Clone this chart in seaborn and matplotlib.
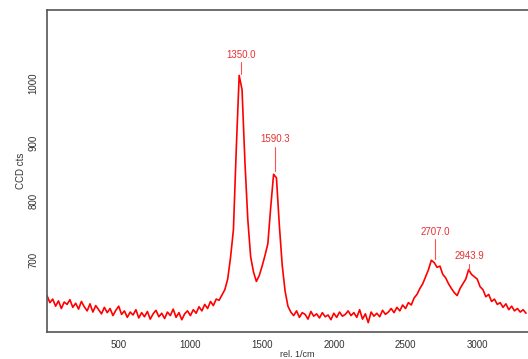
import numpy as np
import pandas as pd
import seaborn as sns
import matplotlib.pyplot as plt

# Raman spectrum, values (20 1/cm steps)
shift = np.arange(0, 3360, 20)
counts = [
    640, 628, 634, 622, 631, 618, 629, 625, 633, 620,
    627, 617, 630, 621, 614, 626, 612, 623, 616, 609,
    620, 611, 618, 606, 615, 622, 608, 614, 603, 612,
    607, 616, 602, 611, 604, 613, 600, 609, 615, 604,
    610, 601, 612, 606, 617, 603, 611, 599, 609, 614,
    606, 616, 610, 621, 614, 625, 618, 630, 623, 634,
    632, 641, 650, 668, 705, 752, 890, 1014, 990, 868,
    770, 706, 680, 664, 674, 690, 708, 728, 790, 846,
    840, 760, 692, 648, 622, 612, 606, 614, 603, 611,
    608, 600, 613, 605, 609, 602, 611, 604, 607, 599,
    610, 603, 612, 605, 608, 614, 606, 611, 603, 616,
    600, 609, 594, 612, 605, 610, 604, 615, 608, 612,
    618, 611, 620, 614, 624, 618, 628, 624, 636, 642,
    652, 660, 672, 684, 700, 696, 688, 690, 676, 670,
    660, 652, 645, 640, 652, 660, 668, 684, 676, 672,
    668, 655, 650, 638, 642, 630, 634, 625, 628, 620,
    626, 616, 622, 614, 618, 612, 616, 610,
]
peak_pos = [1350.0, 1590.3, 2707.0, 2943.9]
peak_top = [1016, 852, 702, 684]
label_y = [1040, 897, 740, 698]

df = pd.DataFrame({'shift': shift, 'counts': counts})

sns.set_style('white')
plt.rcParams['font.family'] = ['Liberation Sans', 'DejaVu Sans']
fig = plt.figure(figsize=(5.28, 3.59), dpi=100)
ax = fig.add_axes([0.089, 0.075, 0.911, 0.897])
sns.lineplot(data=df, x='shift', y='counts', color='red', lw=1.2, ax=ax)

# peak labels with short marker lines
for p, t, ly in zip(peak_pos, peak_top, label_y):
    ax.plot([p, p], [t, ly - 4], color='#ff5050', lw=0.8)
    ax.text(p, ly, f'{p:.1f}', color='#e83030', fontsize=7,
            ha='center', va='bottom')

ax.set_xlim(0, 3354)
ax.set_ylim(578, 1125)
ax.set_xticks([500, 1000, 1500, 2000, 2500, 3000])
ax.set_yticks([700, 800, 900, 1000])
ax.tick_params(axis='both', direction='out', length=4, width=1,
               color='#444444', labelcolor='#333333', labelsize=7, pad=2)
for lab in ax.get_yticklabels():
    lab.set_rotation(90)
    lab.set_va('center')
for s in ['left', 'top', 'bottom']:
    ax.spines[s].set_color('#555555')
    ax.spines[s].set_linewidth(1.2)
ax.spines['right'].set_visible(False)
ax.set_xlabel('rel. 1/cm', fontsize=6.5, color='#333333', va='bottom')
ax.xaxis.set_label_coords(0.52, -0.083)
ax.set_ylabel('CCD cts', fontsize=7, color='#333333', labelpad=2)

fig.savefig('out.png', dpi=100)
